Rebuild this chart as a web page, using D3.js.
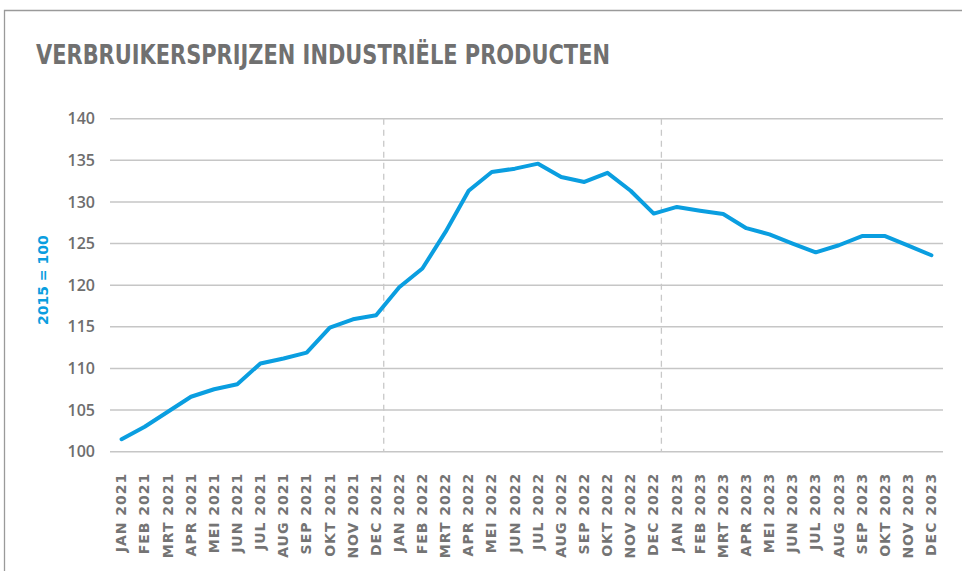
<!DOCTYPE html>
<html>
<head>
<meta charset="utf-8">
<script src="https://cdn.jsdelivr.net/npm/d3@7"></script>
<style>
  html, body { margin: 0; padding: 0; background: #fff; }
  svg { display: block; }
  .tick-label { font-family: "Open Sans", "DejaVu Sans", sans-serif; font-weight: 600; fill: #6e6e6e; }
</style>
</head>
<body>
<div id="chart"></div>
<script>
// Consumer prices of industrial products, index 2015 = 100
const months = [
  "JAN 2021", "FEB 2021", "MRT 2021", "APR 2021", "MEI 2021", "JUN 2021",
  "JUL 2021", "AUG 2021", "SEP 2021", "OKT 2021", "NOV 2021", "DEC 2021",
  "JAN 2022", "FEB 2022", "MRT 2022", "APR 2022", "MEI 2022", "JUN 2022",
  "JUL 2022", "AUG 2022", "SEP 2022", "OKT 2022", "NOV 2022", "DEC 2022",
  "JAN 2023", "FEB 2023", "MRT 2023", "APR 2023", "MEI 2023", "JUN 2023",
  "JUL 2023", "AUG 2023", "SEP 2023", "OKT 2023", "NOV 2023", "DEC 2023"
];

const indexValues = [
  101.5, 103.0, 104.8, 106.6, 107.5, 108.1,
  110.6, 111.2, 111.9, 114.9, 115.9, 116.4,
  119.75, 122.0, 126.4, 131.35, 133.6, 134.0,
  134.6, 133.0, 132.4, 133.5, 131.35, 128.6,
  129.4, 128.95, 128.55, 126.85, 126.1, 125.0,
  123.95, 124.8, 125.9, 125.9, 124.75, 123.6
];

const yTicks = [100, 105, 110, 115, 120, 125, 130, 135, 140];

// year boundaries get a dashed separator
const yearEnds = ["DEC 2021", "DEC 2022"];

const W = 962, H = 571;
const margin = { top: 118.7, right: 19, bottom: 119.3, left: 110 };
const innerW = W - margin.left - margin.right;
const innerH = H - margin.top - margin.bottom;

const svg = d3.select("#chart").append("svg")
  .attr("width", W)
  .attr("height", H);

// outer frame (top and left edges only visible)
svg.append("path")
  .attr("d", `M4.5,${H} V10.5 H${W}`)
  .attr("fill", "none")
  .attr("stroke", "#9a9a9a")
  .attr("stroke-width", 1.3);

svg.append("text")
  .attr("x", 36)
  .attr("y", 64)
  .attr("textLength", 574)
  .attr("lengthAdjust", "spacingAndGlyphs")
  .style("font-family", "'DejaVu Sans Condensed', 'DejaVu Sans', sans-serif")
  .style("font-stretch", "condensed")
  .style("font-weight", "bold")
  .style("font-size", "26px")
  .style("fill", "#707070")
  .text("VERBRUIKERSPRIJZEN INDUSTRIËLE PRODUCTEN");

const g = svg.append("g")
  .attr("transform", `translate(${margin.left},${margin.top})`);

const x = d3.scalePoint()
  .domain(months)
  .range([0, innerW])
  .padding(0.5);

const y = d3.scaleLinear()
  .domain([100, 140])
  .range([innerH, 0]);

// horizontal grid
g.append("g")
  .selectAll("line")
  .data(yTicks)
  .join("line")
  .attr("x1", 0)
  .attr("x2", innerW)
  .attr("y1", d => y(d))
  .attr("y2", d => y(d))
  .attr("stroke", "#c6c6c6")
  .attr("stroke-width", 1.5);

// dashed year separators
const step = x.step();
g.append("g")
  .selectAll("line")
  .data(yearEnds)
  .join("line")
  .attr("x1", d => x(d) + step * 0.33)
  .attr("x2", d => x(d) + step * 0.33)
  .attr("y1", y(140))
  .attr("y2", y(100))
  .attr("stroke", "#c8c8c8")
  .attr("stroke-width", 1.3)
  .attr("stroke-dasharray", "6,5");

// y axis labels
const yAxis = g.append("g")
  .call(d3.axisLeft(y).tickValues(yTicks).tickSize(0).tickPadding(15));
yAxis.select(".domain").remove();
yAxis.selectAll("text")
  .attr("class", "tick-label")
  .style("font-size", "16px");

// x axis labels, rotated
const xAxis = g.append("g")
  .attr("transform", `translate(0,${innerH})`)
  .call(d3.axisBottom(x).tickSize(0));
xAxis.select(".domain").remove();
xAxis.selectAll("text")
  .attr("class", "tick-label")
  .style("font-family", "'DejaVu Sans', sans-serif")
  .style("font-weight", "bold")
  .style("font-size", "14px")
  .style("letter-spacing", "1px")
  .style("fill", "#747474")
  .attr("text-anchor", "end")
  .attr("transform", "rotate(-90)")
  .attr("x", -21)
  .attr("y", 0)
  .attr("dy", "0.3em");

// y axis title
svg.append("text")
  .attr("transform", `translate(48,${margin.top + innerH / 2 - 5}) rotate(-90)`)
  .attr("text-anchor", "middle")
  .style("font-family", "'DejaVu Sans', sans-serif")
  .style("font-weight", "bold")
  .style("font-size", "14px")
  .style("fill", "#0a9ee0")
  .text("2015 = 100");

// the series line
const line = d3.line()
  .x((d, i) => x(months[i]))
  .y(d => y(d));

g.append("path")
  .datum(indexValues)
  .attr("d", line)
  .attr("fill", "none")
  .attr("stroke", "#0a9ee0")
  .attr("stroke-width", 4)
  .attr("stroke-linejoin", "round")
  .attr("stroke-linecap", "round");
</script>
</body>
</html>
